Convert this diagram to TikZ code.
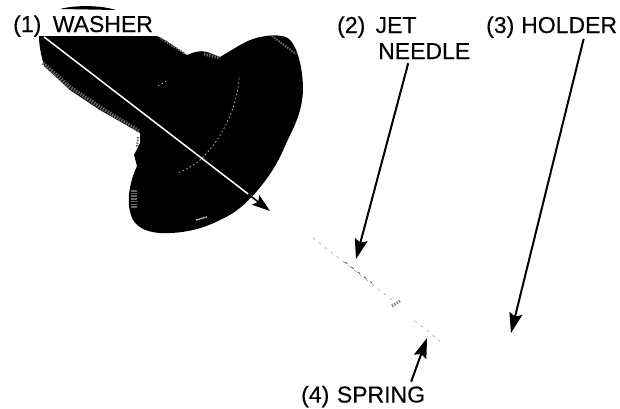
\documentclass[tikz,border=0pt]{standalone}
\usepackage{fontspec}
\setmainfont{Liberation Sans}
\newfontfamily\lblfont[FakeBold=0.35]{Liberation Sans}
\usetikzlibrary{arrows.meta}
\tikzset{
  lbl/.style={anchor=base west,inner sep=0pt,font=\lblfont\fontsize{23}{25}\selectfont,text=black},
  ptr/.style={draw=black,line width=2pt,-{Stealth[length=20pt,width=13pt,inset=3pt]}},
  blob/.style={fill=black,draw=none},
  grain/.style={draw=black!60,line width=3.5pt,dash pattern=on 1.5pt off 1.2pt},
  grainw/.style={draw=white!72!black,line width=.8pt,dash pattern=on 1.5pt off 2.5pt},
  part/.style={draw=black!45,line width=.5pt,dash pattern=on 2.5pt off 5pt}
}
\begin{document}
\begin{tikzpicture}[x=1pt,y=-1pt]
\useasboundingbox (0,0) rectangle (620,408);
% washer photograph
\path[blob] (39,36) -- (157,36) .. controls (170,42) and (178,50) .. (187,55)
  .. controls (194,52) and (200,50) .. (207,52) -- (220,57)
  .. controls (232,50) and (245,41) .. (256,38) .. controls (268,35) and (280,34) .. (288,38)
  .. controls (298,46) and (303,70) .. (303,90) .. controls (302,115) and (292,130) .. (285,146)
  .. controls (277,165) and (268,178) .. (257,191) .. controls (245,205) and (235,213) .. (222,219)
  .. controls (205,228) and (185,234) .. (160,233) .. controls (145,232) and (134,226) .. (131,215)
  .. controls (127,205) and (128,185) .. (137,166) -- (134,155) -- (140,143) -- (140,133)
  -- (100,110) -- (70,90) -- (44,66) .. controls (41,55) and (39,45) .. (39,36) -- cycle;
\path[blob] (60,9) .. controls (75,5) and (100,5) .. (116,10) -- cycle;
% greyed highlights on the washer
\draw[grain] (43,63) -- (70,87) -- (100,107) -- (139,131);
\draw[grain,line width=2pt] (138,137) -- (137,147);
\draw[grain,line width=6pt] (134,190) -- (134,208);
\draw[grain,line width=2pt] (160,38) -- (184,53);
\draw[grain,line width=3pt] (204,54) -- (220,58);
\draw[grain,line width=2pt] (272,36) -- (296,54);
\draw[grainw] (239,78) .. controls (238,105) and (222,140) .. (200,160) .. controls (195,165) and (185,170) .. (177,173);
\draw[grainw] (158,86) -- (168,80);
\draw[grainw,line width=1.4pt,dash pattern=on 2pt off .5pt] (196,220) -- (207,217);
% jet needle and spring, very faint in the picture
\draw[part] (313,238) -- (396,303);
\draw[black!70,line width=.8pt,dash pattern=on 3pt off 5pt] (345,262) -- (372,283);
\draw[draw=black!45,line width=3pt,dash pattern=on 1.5pt off 1.2pt] (392,306) -- (400,301);
\draw[part] (415,321) -- (441,342);
% labels
\node[lbl] (l1) at (13,32) {(1)\hspace{.5em}WASHER};
\node[lbl] (l2a) at (337,33) {(2)\hspace{.45em}JET};
\node[lbl] (l2b) at (378,59) {NEEDLE};
\node[lbl] (l3) at (486,33) {(3)\hspace{.3em}HOLDER};
\node[lbl] (l4) at (301,402.5) {(4)\hspace{.33em}SPRING};
% free ends of the pointers
\coordinate (t1) at (270,211);
\coordinate (t2) at (356,259);
\coordinate (t3) at (511,333);
\coordinate (t4) at (427,338);
\coordinate (s1) at ([xshift=-39pt]l1.south);
\coordinate (s2) at ([xshift=-16pt,yshift=-4pt]l2b.south);
\coordinate (s3) at ([xshift=32pt,yshift=-1pt]l3.south);
\coordinate (s4) at ([xshift=48pt,yshift=4pt]l4.north);
% pointers
\draw[draw=white,line width=1.5pt] (s1) -- (254,198.5);
\draw[draw=black,line width=1.5pt,-{Stealth[length=18pt,width=12pt,inset=3pt]}] (248,194) -- (t1);
\draw[ptr] (s2) -- (t2);
\draw[ptr] (s3) -- (t3);
\draw[ptr] (s4) -- (t4);
\end{tikzpicture}
\end{document}
